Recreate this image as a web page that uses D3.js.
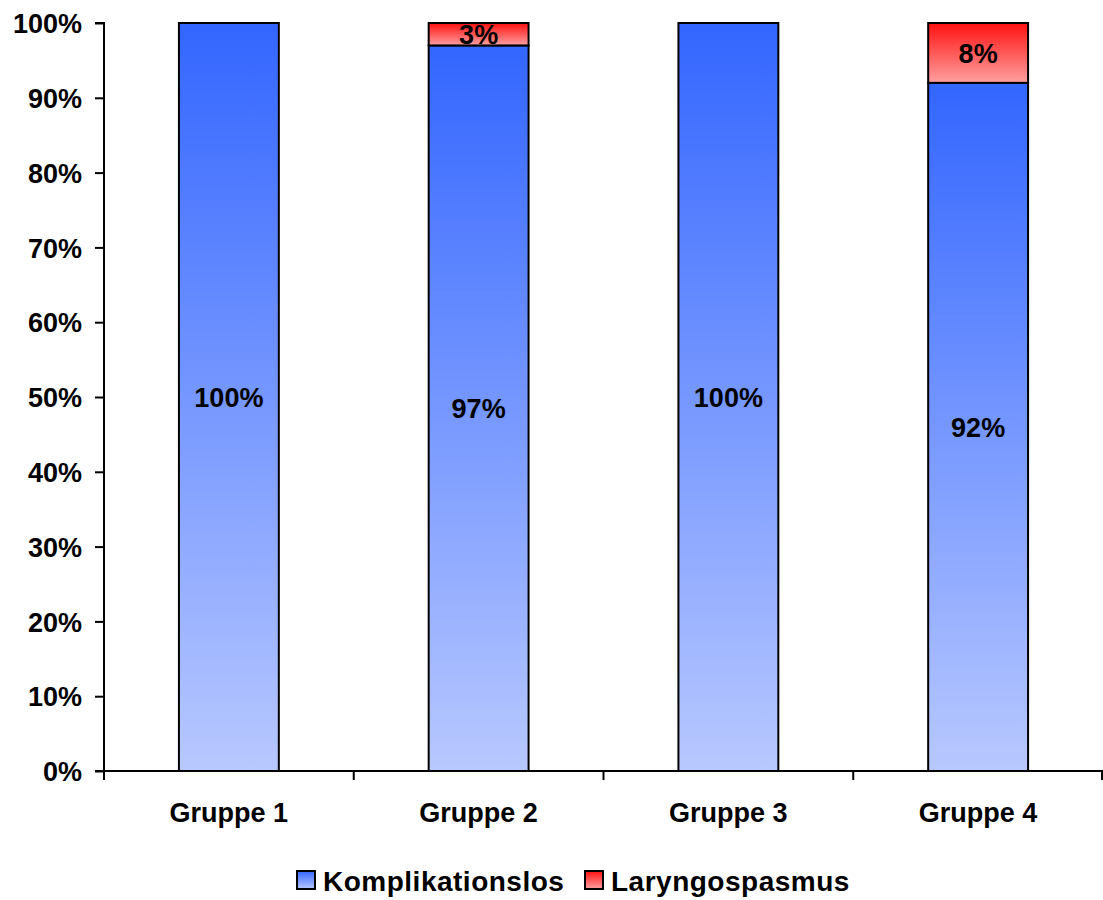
<!DOCTYPE html>
<html>
<head>
<meta charset="utf-8">
<script src="https://cdn.jsdelivr.net/npm/d3@7"></script>
<style>
  body { margin: 0; background: #fff; }
  text { font-family: "Liberation Sans", Arial, sans-serif; font-weight: bold; fill: #000; }
</style>
</head>
<body>
<svg id="chart" width="1103" height="900"></svg>
<script>
// Stacked percentage bars per group
const categories = ["Gruppe 1", "Gruppe 2", "Gruppe 3", "Gruppe 4"];
const seriesNames = ["Komplikationslos", "Laryngospasmus"];
const komplikationslos = [100, 97, 100, 92];
const laryngospasmus = [0, 3, 0, 8];
const yTicks = [0, 10, 20, 30, 40, 50, 60, 70, 80, 90, 100];

const svg = d3.select("#chart");
const plotLeft = 104, plotRight = 1103, plotTop = 23, plotBottom = 771;
const fontSize = "27px";

const x = d3.scaleBand().domain(categories).range([plotLeft, plotRight]).paddingInner(0.6).paddingOuter(0.3);
const y = d3.scaleLinear().domain([0, 100]).range([plotBottom, plotTop]);

// Gradients (dark at the top, light at the bottom)
const defs = svg.append("defs");
function grad(id, c0, c1) {
  const g = defs.append("linearGradient").attr("id", id)
    .attr("x1", 0).attr("y1", 0).attr("x2", 0).attr("y2", 1);
  g.append("stop").attr("offset", "0%").attr("stop-color", c0);
  g.append("stop").attr("offset", "100%").attr("stop-color", c1);
}
grad("gBlue", "#3366ff", "#b8c8ff");
grad("gRed", "#ff1111", "#ffa0a0");
const fills = ["url(#gBlue)", "url(#gRed)"];

const rows = categories.map((c, i) => ({ cat: c, Komplikationslos: komplikationslos[i], Laryngospasmus: laryngospasmus[i] }));
const stacked = d3.stack().keys(seriesNames)(rows);

stacked.forEach((layer, si) => {
  layer.forEach(d => {
    const v = d[1] - d[0];
    if (v <= 0) return;
    svg.append("rect")
      .attr("x", x(d.data.cat))
      .attr("y", y(d[1]))
      .attr("width", x.bandwidth())
      .attr("height", y(d[0]) - y(d[1]))
      .attr("fill", fills[si])
      .attr("stroke", "#000")
      .attr("stroke-width", 2);
  });
});

// Value labels centred in each segment
stacked.forEach(layer => {
  layer.forEach(d => {
    const v = d[1] - d[0];
    if (v <= 0) return;
    svg.append("text")
      .attr("x", x(d.data.cat) + x.bandwidth() / 2)
      .attr("y", y((d[0] + d[1]) / 2))
      .attr("dy", "0.36em")
      .attr("text-anchor", "middle")
      .style("font-size", fontSize)
      .text(v + "%");
  });
});

// Y axis
const yAxis = svg.append("g").attr("transform", `translate(${plotLeft},0)`)
  .call(d3.axisLeft(y).tickValues(yTicks).tickSize(9).tickPadding(13).tickFormat(d => d + "%"));
yAxis.selectAll("path, line").attr("stroke", "#000").attr("stroke-width", 2);
yAxis.select(".domain").attr("d", `M-9,${plotTop}H0V${plotBottom}H-9`);
yAxis.selectAll("text").attr("dy", "0.36em").style("font-size", fontSize)
  .style("font-family", '"Liberation Sans", Arial, sans-serif').style("font-weight", "bold");

// X axis with boundary ticks between groups
const xg = svg.append("g");
xg.append("line").attr("x1", plotLeft).attr("x2", plotRight).attr("y1", plotBottom).attr("y2", plotBottom)
  .attr("stroke", "#000").attr("stroke-width", 2);
const step = x.step();
d3.range(categories.length + 1).forEach(i => {
  const px = plotLeft + i * step - (i === categories.length ? 1 : 0);
  xg.append("line").attr("x1", px).attr("x2", px).attr("y1", plotBottom).attr("y2", plotBottom + 9)
    .attr("stroke", "#000").attr("stroke-width", 2);
});
categories.forEach(c => {
  xg.append("text")
    .attr("x", x(c) + x.bandwidth() / 2)
    .attr("y", 822)
    .attr("text-anchor", "middle")
    .style("font-size", fontSize)
    .text(c);
});

// Legend
const legendItems = [
  { name: seriesNames[0], fill: fills[0], bx: 297 },
  { name: seriesNames[1], fill: fills[1], bx: 585 }
];
legendItems.forEach(it => {
  svg.append("rect").attr("x", it.bx).attr("y", 871).attr("width", 18).attr("height", 18)
    .attr("fill", it.fill).attr("stroke", "#000").attr("stroke-width", 2);
  svg.append("text").attr("x", it.bx + 26).attr("y", 891)
    .style("font-size", "28px").style("letter-spacing", "0.5px").text(it.name);
});
</script>
</body>
</html>
